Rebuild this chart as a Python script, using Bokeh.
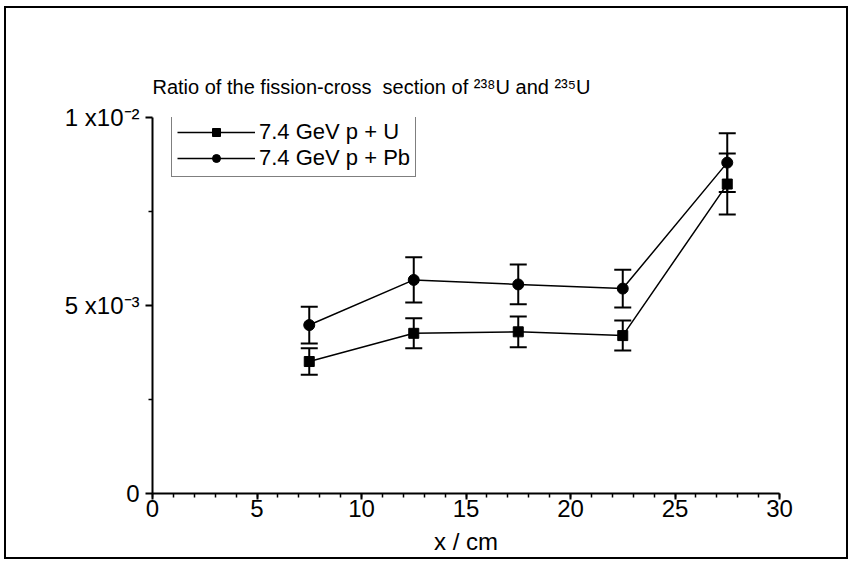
from bokeh.plotting import figure
from bokeh.models import ColumnDataSource, Whisker, TeeHead, Range1d, FixedTicker
from bokeh.embed import file_html
from bokeh.resources import INLINE

# ---- data ----
x_cm = [7.5, 12.5, 17.5, 22.5, 27.5]
ratio_pu = [3.51e-3, 4.26e-3, 4.30e-3, 4.20e-3, 8.23e-3]
err_pu = [0.35e-3, 0.40e-3, 0.41e-3, 0.40e-3, 0.81e-3]
ratio_ppb = [4.48e-3, 5.68e-3, 5.56e-3, 5.45e-3, 8.80e-3]
err_ppb = [0.49e-3, 0.60e-3, 0.53e-3, 0.50e-3, 0.78e-3]

series_labels = ["7.4 GeV p + U", "7.4 GeV p + Pb"]
x_ticks = [0, 5, 10, 15, 20, 25, 30]
x_minor = [v for v in range(0, 31)]
y_ticks = [0.0, 0.005, 0.01]
y_minor = [0.0025, 0.0075]
y_tick_labels = ["0", "5 x10\u207b\u00b3", "1 x10\u207b\u00b2"]
title_text = "Ratio of the fission-cross\u00a0 section of \u00b2\u00b3\u2078U and \u00b2\u00b3\u2075U"

FONT = "Liberation Sans"

p = figure(width=844, height=553, output_backend="svg", toolbar_location=None,
           x_range=Range1d(0, 30), y_range=Range1d(0, 0.01),
           min_border_left=146, min_border_right=71, min_border_top=109, min_border_bottom=68)
p.styles = {"border": "2px solid black", "margin": "6px 0px 0px 4px"}
p.grid.visible = False
p.outline_line_color = None
p.background_fill_color = "white"
p.border_fill_color = "white"

# title
p.title.text = title_text
p.title.align = "left"
p.title.offset = 0
p.title.standoff = 39
p.title.text_font = FONT
p.title.text_font_size = "20px"
p.title.text_font_style = "normal"
p.title.text_color = "black"

# axes
p.xaxis.ticker = FixedTicker(ticks=x_ticks, minor_ticks=x_minor)
p.yaxis.ticker = FixedTicker(ticks=y_ticks, minor_ticks=y_minor)
p.yaxis.major_label_overrides = {t: s for t, s in zip(y_ticks, y_tick_labels)}
for ax in (p.xaxis[0], p.yaxis[0]):
    ax.axis_line_width = 2
    ax.axis_line_color = "black"
    ax.major_tick_line_width = 2
    ax.minor_tick_line_width = 1.5
    ax.major_tick_out = 6
    ax.major_tick_in = 0
    ax.minor_tick_out = 4
    ax.minor_tick_in = 0
    ax.major_label_text_font = FONT
    ax.major_label_text_font_size = "24px"
    ax.major_label_text_color = "black"
    ax.axis_label_text_font = FONT
    ax.axis_label_text_font_size = "24px"
    ax.axis_label_text_font_style = "normal"
    ax.axis_label_text_color = "black"
p.yaxis.major_tick_out = 7
p.xaxis.major_label_standoff = 0
p.yaxis.major_label_standoff = 6
p.xaxis.axis_label = "x / cm"
p.xaxis.axis_label_standoff = 8

# data sources
src_u = ColumnDataSource(dict(x=x_cm, y=ratio_pu,
                              lo=[v - e for v, e in zip(ratio_pu, err_pu)],
                              hi=[v + e for v, e in zip(ratio_pu, err_pu)]))
src_pb = ColumnDataSource(dict(x=x_cm, y=ratio_ppb,
                               lo=[v - e for v, e in zip(ratio_ppb, err_ppb)],
                               hi=[v + e for v, e in zip(ratio_ppb, err_ppb)]))

for src in (src_u, src_pb):
    w = Whisker(base="x", lower="lo", upper="hi", source=src, line_width=2, line_color="black",
                upper_head=TeeHead(size=17, line_width=2, line_color="black"),
                lower_head=TeeHead(size=17, line_width=2, line_color="black"))
    p.add_layout(w)

p.line("x", "y", source=src_u, line_color="black", line_width=1.5, legend_label=series_labels[0])
p.scatter("x", "y", source=src_u, marker="square", size=10, color="black", legend_label=series_labels[0])
p.line("x", "y", source=src_pb, line_color="black", line_width=1.5, legend_label=series_labels[1])
p.scatter("x", "y", source=src_pb, marker="circle", size=11, color="black", legend_label=series_labels[1])

lg = p.legend[0]
lg.location = (19, 316)
lg.margin = 0
lg.padding = 5
lg.spacing = 0
lg.label_height = 20
lg.glyph_height = 20
lg.glyph_width = 78
lg.label_standoff = 4
lg.label_text_font = FONT
lg.label_text_font_size = "22px"
lg.label_text_color = "black"
lg.border_line_color = "black"
lg.border_line_width = 1.5
lg.background_fill_color = "white"
lg.background_fill_alpha = 1.0

open("out.html", "w").write(file_html(p, INLINE))
